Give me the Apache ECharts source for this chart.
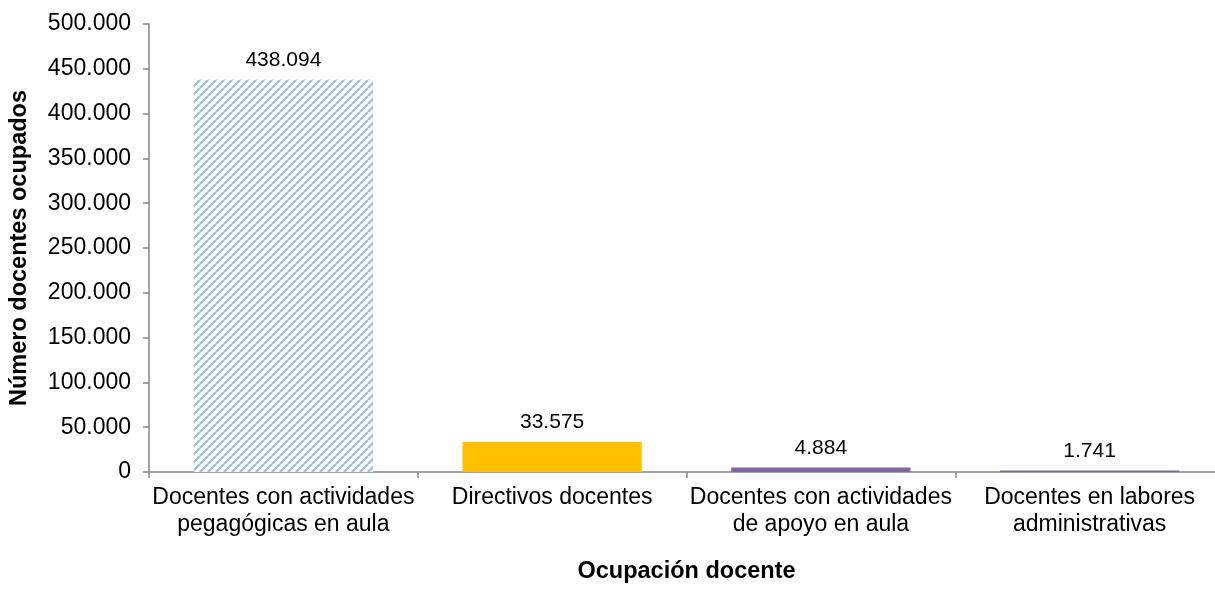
<!DOCTYPE html>
<html>
<head>
<meta charset="utf-8">
<script src="https://cdn.jsdelivr.net/npm/echarts@6/dist/echarts.min.js"></script>
<style>
html,body{margin:0;padding:0;background:#fff;overflow:hidden;width:1215px;height:589px;}
#chart{width:1226px;height:589px;}
</style>
</head>
<body>
<div id="chart"></div>
<script>
var categories = [
  "Docentes con actividades\npegagógicas en aula",
  "Directivos docentes",
  "Docentes con actividades\nde apoyo en aula",
  "Docentes en labores\nadministrativas"
];
var values = [438094, 33575, 4884, 1741];
var barColors = ["pattern", "#FFC000", "#8064A2", "#8064A2"];
var yTitle = "Número docentes ocupados";
var xTitle = "Ocupación docente";

function fmt(v) {
  return String(Math.round(v)).replace(/\B(?=(\d{3})+(?!\d))/g, ".");
}

function makeStripe() {
  var c = document.createElement("canvas");
  var s = 8;
  c.width = s; c.height = s;
  var ctx = c.getContext("2d");
  ctx.fillStyle = "#ffffff";
  ctx.fillRect(0, 0, s, s);
  ctx.strokeStyle = "#A7C0DE";
  ctx.lineWidth = 2.6;
  ctx.beginPath();
  for (var k = -1; k <= 1; k++) {
    ctx.moveTo(k * s, s);
    ctx.lineTo(k * s + s, 0);
  }
  ctx.stroke();
  return c;
}
var stripe = makeStripe();

var font = "'Liberation Sans', Arial, sans-serif";
var chart = echarts.init(document.getElementById("chart"));
chart.setOption({
  animation: false,
  backgroundColor: "#ffffff",
  grid: { left: 146, top: 24, height: 451, width: 1078 },
  xAxis: {
    type: "category",
    data: categories,
    name: xTitle,
    nameLocation: "middle",
    nameGap: 88,
    nameTextStyle: { fontFamily: font, fontSize: 23.5, fontWeight: "bold", color: "#000" },
    axisLine: { lineStyle: { color: "#868686", width: 1.5 } },
    axisTick: { show: true, alignWithLabel: false, length: 6, lineStyle: { color: "#868686", width: 1.5 } },
    axisLabel: { fontFamily: font, fontSize: 23, color: "#000", margin: 12, lineHeight: 27, interval: 0 }
  },
  yAxis: {
    type: "value",
    min: 0, max: 500000, interval: 50000,
    name: yTitle,
    nameLocation: "middle",
    nameGap: 117,
    nameTextStyle: { fontFamily: font, fontSize: 23.5, fontWeight: "bold", color: "#000" },
    axisLine: { show: true, lineStyle: { color: "#868686", width: 1.5 } },
    axisTick: { show: true, length: 6, lineStyle: { color: "#868686", width: 1.5 } },
    splitLine: { show: false },
    axisLabel: { fontFamily: font, fontSize: 23, color: "#000", margin: 18, formatter: fmt }
  },
  series: [{
    type: "bar",
    barWidth: "66.7%",
    data: values.map(function (v, i) {
      return {
        value: v,
        itemStyle: {
          color: barColors[i] === "pattern" ? { image: stripe, repeat: "repeat" } : barColors[i]
        }
      };
    }),
    label: {
      show: true,
      position: "top",
      distance: 9,
      fontFamily: font,
      fontSize: 21,
      color: "#000",
      formatter: function (p) { return fmt(p.value); }
    }
  }]
});
</script>
</body>
</html>
